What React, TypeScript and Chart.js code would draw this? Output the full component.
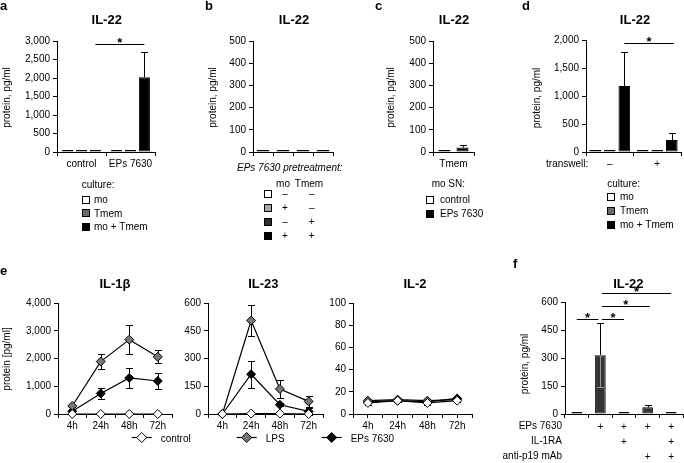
import React, { useEffect, useRef } from 'react';
import { Chart, registerables } from 'chart.js';
Chart.register(...registerables);

const FONT = "'Liberation Sans', Arial, Helvetica, sans-serif";

// ---------- Panel a ----------
const aCategories = ['control', 'EPs 7630'];
const aMo = [10, 10];
const aTmem = [10, 10];
const aMoTmem = [10, 2020];
const aMoTmemErr = [0, 690];
const aYTicks = [0, 500, 1000, 1500, 2000, 2500, 3000];
const aSig = [{ d1: 2, i1: 0, d2: 2, i2: 1, v: 2910, in1: 0, in2: 0 }];

// ---------- Panel b ----------
const bCategories = ['', '', '', ''];
const bValues = [3, 3, 3, 3];
const bColors = ['#ffffff', '#a8a8a8', '#303030', '#000000'];
const bYTicks = [0, 100, 200, 300, 400, 500];
const bMoRow = ['–', '+', '–', '+'];
const bTmemRow = ['–', '–', '+', '+'];

// ---------- Panel c ----------
const cCategories = ['Tmem'];
const cControl = [3];
const cEPs = [20];
const cEPsErr = [13];
const cYTicks = [0, 100, 200, 300, 400, 500];

// ---------- Panel d ----------
const dCategories = ['–', '+'];
const dMo = [10, 8];
const dTmem = [10, 8];
const dMoTmem = [1180, 214];
const dMoTmemErr = [610, 120];
const dYTicks = [0, 500, 1000, 1500, 2000];
const dSig = [{ d1: 2, i1: 0, d2: 2, i2: 1, v: 1940, in1: 0, in2: -2 }];

// ---------- Panel e ----------
const eTimes = ['4h', '24h', '48h', '72h'];
const il1bControl = [0, 0, 0, 0];
const il1bLPS = [290, 1890, 2680, 2060];
const il1bLPSErr = [40, 260, 510, 240];
const il1bEPs = [100, 740, 1300, 1190];
const il1bEPsErr = [20, 190, 370, 280];
const il1bYTicks = [0, 1000, 2000, 3000, 4000];

const il23Control = [0, 2, 2, 0];
const il23LPS = [0, 505, 135, 68];
const il23LPSErr = [0, 85, 47, 32];
const il23EPs = [0, 215, 50, 14];
const il23EPsErr = [0, 72, 8, 18];
const il23YTicks = [0, 150, 300, 450, 600];

const il2Control = [10, 12, 10, 12];
const il2LPS = [12, 13, 12, 13];
const il2EPs = [11, 12, 11, 14];
const il2Err = [1.5, 1.5, 1.5, 1.5];
const il2YTicks = [0, 20, 40, 60, 80, 100];

// ---------- Panel f ----------
const fValues = [4, 315, 4, 36, 4];
const fErrUp = [0, 170, 0, 14, 0];
const fErrDown = [0, 172, 0, 0, 0];
const fEPsRow = ['', '+', '+', '+', '+'];
const fIL1RARow = ['', '', '+', '', '+'];
const fP19Row = ['', '', '', '+', '+'];
const fYTicks = [0, 150, 300, 450, 600];
const fSig = [
  { d1: 0, i1: 0, d2: 0, i2: 1, v: 511, in1: 0, in2: 2 },
  { d1: 0, i1: 1, d2: 0, i2: 2, v: 511, in1: 1.5, in2: 0 },
  { d1: 0, i1: 1, d2: 0, i2: 3, v: 578, in1: 1.5, in2: -2 },
  { d1: 0, i1: 1, d2: 0, i2: 4, v: 650, in1: 1.5, in2: 0 },
];

// ---------- plugins ----------
function drawErrors(chart: any) {
  const ctx = chart.ctx;
  const ys = chart.scales.y;
  chart.data.datasets.forEach((ds: any, di: number) => {
    if (!ds.errUp && !ds.errDown) return;
    const meta = chart.getDatasetMeta(di);
    meta.data.forEach((el: any, i: number) => {
      const raw = ds.data[i];
      const v = typeof raw === 'number' ? raw : raw.y;
      const up = ds.errUp ? ds.errUp[i] : 0;
      const dn = ds.errDown ? ds.errDown[i] : 0;
      const x = Math.round(el.x) + 0.5;
      const py = ys.getPixelForValue(v);
      const cap = 3.5;
      ctx.save();
      ctx.lineWidth = 1;
      if (up > 0) {
        const t = Math.round(ys.getPixelForValue(v + up)) + 0.5;
        ctx.strokeStyle = '#000';
        ctx.beginPath();
        ctx.moveTo(x, py);
        ctx.lineTo(x, t);
        ctx.moveTo(x - cap, t);
        ctx.lineTo(x + cap, t);
        ctx.stroke();
      }
      if (dn > 0) {
        const b = Math.round(ys.getPixelForValue(v - dn)) + 0.5;
        ctx.strokeStyle = ds.errDownColor || '#000';
        ctx.beginPath();
        ctx.moveTo(x, py);
        ctx.lineTo(x, b);
        ctx.moveTo(x - cap, b);
        ctx.lineTo(x + cap, b);
        ctx.stroke();
      }
      ctx.restore();
    });
  });
}

const errorBarPlugin = {
  id: 'errbars',
  beforeDatasetsDraw(chart: any) {
    if (chart.config.type === 'line') drawErrors(chart);
  },
  afterDatasetsDraw(chart: any) {
    if (chart.config.type === 'bar') drawErrors(chart);
  },
};

const sigPlugin = {
  id: 'sig',
  afterDatasetsDraw(chart: any, _args: any, opts: any) {
    const lines = (opts && opts.lines) || [];
    const ctx = chart.ctx;
    const ys = chart.scales.y;
    lines.forEach((l: any) => {
      const x1 = chart.getDatasetMeta(l.d1).data[l.i1].x + (l.in1 || 0);
      const x2 = chart.getDatasetMeta(l.d2).data[l.i2].x - (l.in2 || 0);
      const py = Math.round(ys.getPixelForValue(l.v)) + 0.5;
      ctx.save();
      ctx.strokeStyle = '#000';
      ctx.lineWidth = 1;
      ctx.beginPath();
      ctx.moveTo(x1, py);
      ctx.lineTo(x2, py);
      ctx.stroke();
      ctx.fillStyle = '#000';
      ctx.font = `bold 13px ${FONT}`;
      ctx.textAlign = 'center';
      ctx.textBaseline = 'alphabetic';
      ctx.fillText('*', (x1 + x2) / 2, py + 2.5);
      ctx.restore();
    });
  },
};

// ---------- helpers ----------
const tickFont = { family: FONT, size: 10 };

function yScale(ticks: number[], yw: number) {
  return {
    type: 'linear',
    min: ticks[0],
    max: ticks[ticks.length - 1],
    afterBuildTicks: (s: any) => {
      s.ticks = ticks.map((v) => ({ value: v }));
    },
    ticks: {
      color: '#000',
      font: tickFont,
      padding: 3,
      callback: (v: any) => Number(v).toLocaleString('en-US'),
    },
    grid: { display: true, drawOnChartArea: false, drawTicks: true, tickLength: 4, color: '#000', lineWidth: 1 },
    border: { display: true, color: '#000', width: 1 },
    afterFit: (s: any) => {
      s.width = yw;
    },
  };
}

function xCatScale(xh: number, lineHeight = 1.2) {
  return {
    type: 'category',
    offset: true,
    ticks: { color: '#000', font: { ...tickFont, lineHeight }, padding: 2, maxRotation: 0, autoSkip: false },
    grid: { display: true, offset: true, drawOnChartArea: false, drawTicks: true, tickLength: 4, color: '#000', lineWidth: 1 },
    border: { display: true, color: '#000', width: 1 },
    afterFit: (s: any) => {
      s.height = xh;
    },
  };
}

function xTimeScale(xh: number) {
  return {
    type: 'linear',
    min: -0.5,
    max: eTimes.length - 0.5,
    afterBuildTicks: (s: any) => {
      const t: any[] = [];
      for (let i = 0; i <= eTimes.length * 2; i++) t.push({ value: -0.5 + i * 0.5 });
      s.ticks = t;
    },
    ticks: {
      color: '#000',
      font: tickFont,
      padding: 2,
      maxRotation: 0,
      autoSkip: false,
      callback: (v: any) => (Number.isInteger(v) ? eTimes[v] : ''),
    },
    grid: { display: true, drawOnChartArea: false, drawTicks: true, tickLength: 4, color: '#000', lineWidth: 1 },
    border: { display: true, color: '#000', width: 1 },
    afterFit: (s: any) => {
      s.height = xh;
    },
  };
}

type Box = { area: [number, number, number, number]; yw: number; xh: number; pt: number; pr: number };

function baseOptions(b: Box, scales: any, sig?: any[]) {
  return {
    responsive: false,
    animation: false,
    devicePixelRatio: 1,
    layout: { padding: { left: 0, top: b.pt, right: b.pr, bottom: 0 } },
    plugins: {
      legend: { display: false },
      tooltip: { enabled: false },
      title: { display: false },
      sig: { lines: sig || [] },
    },
    scales,
  };
}

function ChartBox({ box, make }: { box: Box; make: (b: Box) => any }) {
  const ref = useRef<HTMLCanvasElement>(null);
  const [x0, y0, x1, y1] = box.area;
  const left = x0 - box.yw;
  const top = y0 - box.pt;
  const width = x1 - x0 + box.yw + box.pr;
  const height = y1 - y0 + box.pt + box.xh;
  useEffect(() => {
    const chart = new Chart(ref.current as HTMLCanvasElement, make(box));
    return () => chart.destroy();
  }, []);
  return (
    <canvas
      ref={ref}
      width={width}
      height={height}
      style={{ position: 'absolute', left, top, width, height }}
    />
  );
}

function barDs(label: string, data: number[], color: string | string[], extra: any = {}) {
  return {
    label,
    data,
    backgroundColor: color,
    borderColor: '#000',
    borderWidth: 1,
    borderSkipped: false,
    minBarLength: 2,
    ...extra,
  };
}

function lineDs(label: string, data: number[], fill: string, err?: number[]) {
  return {
    label,
    data: data.map((v, i) => ({ x: i, y: v })),
    borderColor: '#000',
    borderWidth: 1.2,
    pointStyle: 'rectRot',
    pointRadius: 4.5,
    pointBackgroundColor: fill,
    pointBorderColor: '#000',
    pointBorderWidth: 1,
    clip: false,
    errUp: err,
    errDown: err,
  };
}

// ---------- chart builders ----------
const boxA: Box = { area: [57, 41, 155, 152], yw: 45, xh: 22, pt: 22, pr: 4 };
const makeA = (b: Box) => ({
  type: 'bar',
  data: {
    labels: aCategories,
    datasets: [
      barDs('mo', aMo, '#ffffff', { categoryPercentage: 0.85, barPercentage: 0.8 }),
      barDs('Tmem', aTmem, '#6a6a6a', { categoryPercentage: 0.85, barPercentage: 0.8 }),
      barDs('mo + Tmem', aMoTmem, '#000000', { categoryPercentage: 0.85, barPercentage: 0.8, errUp: aMoTmemErr }),
    ],
  },
  options: baseOptions(b, { x: xCatScale(b.xh), y: yScale(aYTicks, b.yw) }, aSig),
  plugins: [errorBarPlugin, sigPlugin],
});

const boxB: Box = { area: [253, 41, 333, 152], yw: 45, xh: 10, pt: 12, pr: 4 };
const makeB = (b: Box) => ({
  type: 'bar',
  data: {
    labels: bCategories,
    datasets: [barDs('IL-22', bValues, bColors, { categoryPercentage: 0.8, barPercentage: 0.8 })],
  },
  options: baseOptions(b, { x: xCatScale(b.xh), y: yScale(bYTicks, b.yw) }),
  plugins: [errorBarPlugin, sigPlugin],
});

const boxC: Box = { area: [433, 41, 474, 152], yw: 45, xh: 22, pt: 12, pr: 4 };
const makeC = (b: Box) => ({
  type: 'bar',
  data: {
    labels: cCategories,
    datasets: [
      barDs('control', cControl, '#ffffff', { categoryPercentage: 0.88, barPercentage: 0.67 }),
      barDs('EPs 7630', cEPs, '#000000', { categoryPercentage: 0.88, barPercentage: 0.67, errUp: cEPsErr }),
    ],
  },
  options: baseOptions(b, { x: xCatScale(b.xh), y: yScale(cYTicks, b.yw) }),
  plugins: [errorBarPlugin, sigPlugin],
});

const boxD: Box = { area: [586, 40, 681, 152], yw: 45, xh: 22, pt: 22, pr: 3 };
const makeD = (b: Box) => ({
  type: 'bar',
  data: {
    labels: dCategories,
    datasets: [
      barDs('mo', dMo, '#ffffff', { categoryPercentage: 0.92, barPercentage: 0.8 }),
      barDs('Tmem', dTmem, '#6a6a6a', { categoryPercentage: 0.92, barPercentage: 0.8 }),
      barDs('mo + Tmem', dMoTmem, '#000000', { categoryPercentage: 0.92, barPercentage: 0.8, errUp: dMoTmemErr }),
    ],
  },
  options: baseOptions(b, { x: xCatScale(b.xh), y: yScale(dYTicks, b.yw) }, dSig),
  plugins: [errorBarPlugin, sigPlugin],
});

function makeLine(ctrl: number[], lps: number[], lpsErr: number[], eps: number[], epsErr: number[], yt: number[], ctrlErr?: number[]) {
  return (b: Box) => ({
    type: 'line',
    data: {
      datasets: [
        lineDs('control', ctrl, '#ffffff', ctrlErr),
        lineDs('LPS', lps, '#777777', lpsErr),
        lineDs('EPs 7630', eps, '#000000', epsErr),
      ],
    },
    options: baseOptions(b, { x: xTimeScale(b.xh), y: yScale(yt, b.yw) }),
    plugins: [errorBarPlugin],
  });
}

const boxE1: Box = { area: [58, 303, 172, 414], yw: 45, xh: 22, pt: 12, pr: 6 };
const boxE2: Box = { area: [208, 303, 323, 414], yw: 45, xh: 22, pt: 12, pr: 6 };
const boxE3: Box = { area: [353, 303, 472, 414], yw: 45, xh: 22, pt: 12, pr: 6 };
const makeE1 = makeLine(il1bControl, il1bLPS, il1bLPSErr, il1bEPs, il1bEPsErr, il1bYTicks);
const makeE2 = makeLine(il23Control, il23LPS, il23LPSErr, il23EPs, il23EPsErr, il23YTicks);
const makeE3 = makeLine(il2Control, il2LPS, il2Err, il2EPs, il2Err, il2YTicks, il2Err);

const boxF: Box = { area: [565, 302, 683, 414], yw: 45, xh: 48, pt: 30, pr: 1 };
const makeF = (b: Box) => ({
  type: 'bar',
  data: {
    labels: fEPsRow.map((_, i) => [fEPsRow[i], fIL1RARow[i], fP19Row[i]]),
    datasets: [
      barDs('IL-22', fValues, '#333333', {
        categoryPercentage: 0.9,
        barPercentage: 0.5,
        errUp: fErrUp,
        errDown: fErrDown,
        errDownColor: '#9a9a9a',
      }),
    ],
  },
  options: baseOptions(b, { x: xCatScale(b.xh, 1.47), y: yScale(fYTicks, b.yw) }, fSig),
  plugins: [errorBarPlugin, sigPlugin],
});

// ---------- annotation texts (figure labels, titles, legends) ----------
type Txt = { x: number; y: number; s: string; size?: number; bold?: boolean; italic?: boolean; align?: CanvasTextAlign };
type VTxt = { cx: number; cy: number; s: string };
type SqItem = { x: number; cy: number; color: string };

const panelLetters: Txt[] = [
  { x: 0, y: 10, s: 'a' },
  { x: 205, y: 10, s: 'b' },
  { x: 375, y: 10, s: 'c' },
  { x: 522, y: 10, s: 'd' },
  { x: 0, y: 275, s: 'e' },
  { x: 513, y: 268, s: 'f' },
];
const titles: Txt[] = [
  { x: 106.7, y: 24, s: 'IL-22' },
  { x: 294, y: 24, s: 'IL-22' },
  { x: 454, y: 24, s: 'IL-22' },
  { x: 635, y: 24, s: 'IL-22' },
  { x: 115, y: 288, s: 'IL-1β' },
  { x: 263.3, y: 288, s: 'IL-23' },
  { x: 415, y: 288, s: 'IL-2' },
  { x: 628.3, y: 288, s: 'IL-22' },
];
const yTitles: VTxt[] = [
  { cx: 7.5, cy: 97.5, s: 'protein, pg/ml' },
  { cx: 213.3, cy: 97.5, s: 'protein, pg/ml' },
  { cx: 390.8, cy: 97.5, s: 'protein, pg/ml' },
  { cx: 537.5, cy: 98, s: 'protein, pg/ml' },
  { cx: 7.5, cy: 359, s: 'protein [pg/ml]' },
  { cx: 525.5, cy: 364, s: 'protein, pg/ml' },
];
const cultureLabels = ['mo', 'Tmem', 'mo + Tmem'];
const cultureColors = ['#ffffff', '#6a6a6a', '#000000'];
const aRows = [203, 216.5, 230];
const dRows = [200, 214, 228];
const bRows = [193.5, 207.5, 221.5, 235.5];
const cLabels = ['control', 'EPs 7630'];
const cColors = ['#ffffff', '#000000'];
const cRows = [203.3, 217.3];
const eLegendLabels = ['control', 'LPS', 'EPs 7630'];
const eLegendFills = ['#ffffff', '#777777', '#000000'];
const eLegendX = [131.7, 236.7, 321.7];
const fRowLabels = ['EPs 7630', 'IL-1RA', 'anti-p19 mAb'];
const fRows = [429.3, 444.3, 458.8];

function buildTexts(): { texts: Txt[]; squares: SqItem[] } {
  const texts: Txt[] = [];
  const squares: SqItem[] = [];
  panelLetters.forEach((t) => texts.push({ ...t, size: 13, bold: true }));
  titles.forEach((t) => texts.push({ ...t, size: 13, bold: true, align: 'center' }));
  // a
  texts.push({ x: 81.7, y: 188, s: 'culture:' });
  cultureLabels.forEach((s, i) => {
    squares.push({ x: 81.5, cy: aRows[i] - 3.3, color: cultureColors[i] });
    texts.push({ x: 94, y: aRows[i], s });
  });
  // b
  texts.push({ x: 237, y: 170.5, s: 'EPs 7630 pretreatment:', italic: true });
  texts.push({ x: 283, y: 187.3, s: 'mo', align: 'center' });
  texts.push({ x: 309, y: 187.3, s: 'Tmem', align: 'center' });
  bColors.forEach((c, i) => {
    squares.push({ x: 264, cy: bRows[i], color: c });
    texts.push({ x: 285, y: bRows[i] + 3.5, s: bMoRow[i], align: 'center' });
    texts.push({ x: 311.7, y: bRows[i] + 3.5, s: bTmemRow[i], align: 'center' });
  });
  // c
  texts.push({ x: 431.7, y: 186.7, s: 'mo SN:' });
  cLabels.forEach((s, i) => {
    squares.push({ x: 426, cy: cRows[i] - 3.3, color: cColors[i] });
    texts.push({ x: 440, y: cRows[i], s });
  });
  // d
  texts.push({ x: 588.3, y: 167, s: 'transwell:', align: 'right' });
  texts.push({ x: 607.3, y: 187, s: 'culture:' });
  cultureLabels.forEach((s, i) => {
    squares.push({ x: 607.3, cy: dRows[i] - 3.3, color: cultureColors[i] });
    texts.push({ x: 620, y: dRows[i], s });
  });
  // e legend text
  eLegendLabels.forEach((s, i) => texts.push({ x: eLegendX[i] + 29, y: 441.7, s }));
  // f rows
  fRowLabels.forEach((s, i) => texts.push({ x: 562, y: fRows[i], s, align: 'right' }));
  return { texts, squares };
}

function Overlay() {
  const ref = useRef<HTMLCanvasElement>(null);
  useEffect(() => {
    const cv = ref.current as HTMLCanvasElement;
    const ctx = cv.getContext('2d') as CanvasRenderingContext2D;
    ctx.clearRect(0, 0, cv.width, cv.height);
    const { texts, squares } = buildTexts();
    ctx.fillStyle = '#000';
    texts.forEach((t) => {
      const size = t.size || 10;
      ctx.font = `${t.italic ? 'italic ' : ''}${t.bold ? 'bold ' : ''}${size}px ${FONT}`;
      ctx.textAlign = t.align || 'left';
      ctx.textBaseline = 'alphabetic';
      ctx.fillStyle = '#000';
      ctx.fillText(t.s, t.x, t.y);
    });
    yTitles.forEach((t) => {
      ctx.save();
      ctx.translate(t.cx, t.cy);
      ctx.rotate(-Math.PI / 2);
      ctx.font = `10px ${FONT}`;
      ctx.textAlign = 'center';
      ctx.textBaseline = 'middle';
      ctx.fillStyle = '#000';
      ctx.fillText(t.s, 0, 0);
      ctx.restore();
    });
    squares.forEach((q) => {
      const x = Math.round(q.x);
      const y = Math.round(q.cy - 4);
      ctx.fillStyle = q.color;
      ctx.fillRect(x, y, 8, 8);
      ctx.strokeStyle = '#000';
      ctx.lineWidth = 1;
      ctx.strokeRect(x + 0.5, y + 0.5, 7, 7);
    });
    // e legend markers
    eLegendX.forEach((x, i) => {
      const cy = 437.5;
      ctx.strokeStyle = '#000';
      ctx.lineWidth = 1.2;
      ctx.beginPath();
      ctx.moveTo(x, cy);
      ctx.lineTo(x + 20, cy);
      ctx.stroke();
      const mx = x + 10;
      ctx.beginPath();
      ctx.moveTo(mx, cy - 5);
      ctx.lineTo(mx + 5, cy);
      ctx.lineTo(mx, cy + 5);
      ctx.lineTo(mx - 5, cy);
      ctx.closePath();
      ctx.fillStyle = eLegendFills[i];
      ctx.fill();
      ctx.lineWidth = 1;
      ctx.stroke();
    });
  }, []);
  return (
    <canvas
      ref={ref}
      width={684}
      height={463}
      style={{ position: 'absolute', left: 0, top: 0, width: 684, height: 463, pointerEvents: 'none' }}
    />
  );
}

export default function App() {
  return (
    <div style={{ position: 'absolute', left: 0, top: 0, width: 684, height: 463, background: '#fff', overflow: 'hidden' }}>
      <ChartBox box={boxA} make={makeA} />
      <ChartBox box={boxB} make={makeB} />
      <ChartBox box={boxC} make={makeC} />
      <ChartBox box={boxD} make={makeD} />
      <ChartBox box={boxE1} make={makeE1} />
      <ChartBox box={boxE2} make={makeE2} />
      <ChartBox box={boxE3} make={makeE3} />
      <ChartBox box={boxF} make={makeF} />
      <Overlay />
    </div>
  );
}
